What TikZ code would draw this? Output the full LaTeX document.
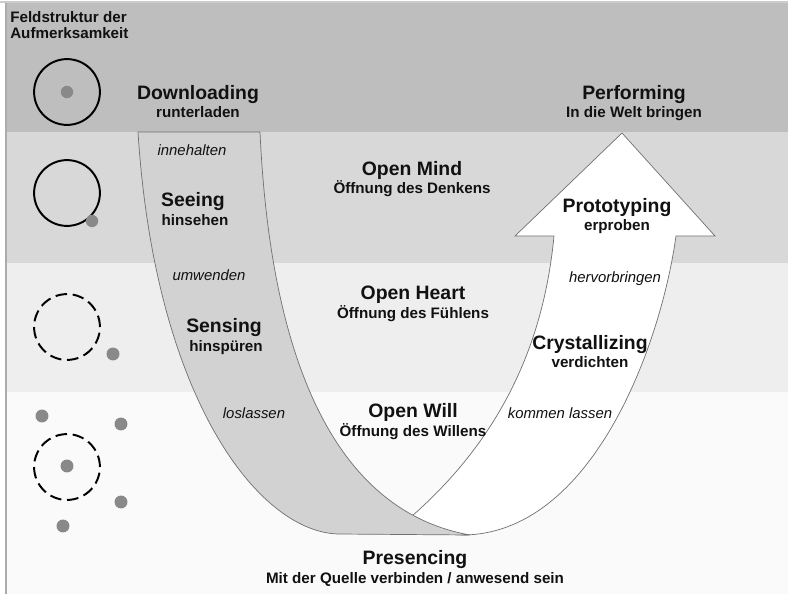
\documentclass[tikz,border=0pt]{standalone}
\usepackage{fontspec}
\setmainfont{Liberation Sans}
\usepackage{tikz}

\definecolor{bandtop}{HTML}{BEBEBE}
\definecolor{bandmind}{HTML}{D8D8D8}
\definecolor{bandheart}{HTML}{EEEEEE}
\definecolor{bandwill}{HTML}{FAFAFA}
\definecolor{armgray}{HTML}{D2D2D2}
\definecolor{edgegray}{HTML}{707070}
\definecolor{dotgray}{HTML}{898989}
\definecolor{inkblack}{HTML}{111111}

\begin{document}
\begin{tikzpicture}[x=0.025cm,y=-0.025cm,
  phase/.style={text=inkblack,inner sep=0pt,anchor=base,font=\bfseries\fontsize{13.8}{15}\selectfont},
  phasesub/.style={text=inkblack,inner sep=0pt,anchor=base,font=\bfseries\fontsize{10.8}{12}\selectfont},
  turn/.style={text=inkblack,inner sep=0pt,anchor=base,font=\itshape\fontsize{10.6}{12}\selectfont},
  ring/.style={line width=1.4pt},
  dashring/.style={line width=1.4pt,dash pattern=on 8.2pt off 4.05pt},
  spot/.style={fill=dotgray}]
\useasboundingbox (0,0) rectangle (788,594);
% bands of attention
\fill[white] (0,0) rectangle (788,594);
\fill[bandtop] (6,3) rectangle (788,132);
\fill[bandmind] (6,132) rectangle (788,263);
\fill[bandheart] (6,263) rectangle (788,392);
\fill[bandwill] (6,392) rectangle (788,594);
\draw[gray!40,line width=1pt] (0,2) -- (788,2);
\draw[gray!65,line width=1.4pt] (6,3) -- (6,594);

% right arm: arrow up
\draw[edgegray,line width=0.5pt,fill=white] (412,516) .. controls (510,430) and (545,330) .. (554,236)
  -- (515,236) -- (622,133) -- (715,236) -- (676,236)
  .. controls (660,350) and (590,535) .. (462,535) -- (445,533) -- cycle;
% left arm: going down
\draw[edgegray,line width=0.5pt,fill=armgray] (138,132) .. controls (155,400) and (260,534) .. (340,534)
  -- (470,535) .. controls (330,510) and (270,350) .. (260,132) -- cycle;

% field structure circles
\node[anchor=north west,inner sep=0pt,align=left,text=inkblack,
  font=\bfseries\fontsize{10.8}{11.4}\selectfont] (fieldtitle) at (10,11) {Feldstruktur der\\Aufmerksamkeit};
\draw[ring] (67,92) circle (23.4pt);
\fill[spot] (67,92) circle (4.4pt);
\draw[ring] (67,193) circle (23.4pt);
\fill[spot] (92,221) circle (4.4pt);
\draw[dashring] (67,327) circle (23.4pt);
\fill[spot] (113,354) circle (4.6pt);
\draw[dashring] (67,467) circle (23.4pt);
\foreach \px/\py in {67/466,42/416,121/424,121/502,63/526}
  \fill[spot] (\px,\py) circle (4.6pt);

% phases
\node[phase] (download) at (198,99) {Downloading};
\node[phasesub] (downloadsub) at (198,117) {runterladen};
\node[phase] (perform) at (634,99) {Performing};
\node[phasesub] (performsub) at (634,117) {In die Welt bringen};
\node[turn] (innehalten) at (192,155) {innehalten};
\node[phase] (seeing) at (193,206) {Seeing};
\node[phasesub] (seeingsub) at (195,225) {hinsehen};
\node[turn] (umwenden) at (209,280) {umwenden};
\node[phase] (sensing) at (224,332) {Sensing};
\node[phasesub] (sensingsub) at (226,351) {hinspüren};
\node[turn] (loslassen) at (254,418) {loslassen};
\node[phase] (mind) at (412,175) {Open Mind};
\node[phasesub] (mindsub) at (412,193) {Öffnung des Denkens};
\node[phase] (heart) at (413,299) {Open Heart};
\node[phasesub] (heartsub) at (413,318) {Öffnung des Fühlens};
\node[phase] (will) at (413,417) {Open Will};
\node[phasesub] (willsub) at (413,436) {Öffnung des Willens};
\node[turn] (kommen) at (560,418) {kommen lassen};
\node[phase] (crystal) at (590,349) {Crystallizing};
\node[phasesub] (crystalsub) at (590,367) {verdichten};
\node[turn] (hervor) at (615,282) {hervorbringen};
\node[phase] (proto) at (617,212) {Prototyping};
\node[phasesub] (protosub) at (617,230) {erproben};
\node[phase] (presence) at (415,564) {Presencing};
\node[phasesub] (presencesub) at (415,583) {Mit der Quelle verbinden / anwesend sein};
\end{tikzpicture}
\end{document}
